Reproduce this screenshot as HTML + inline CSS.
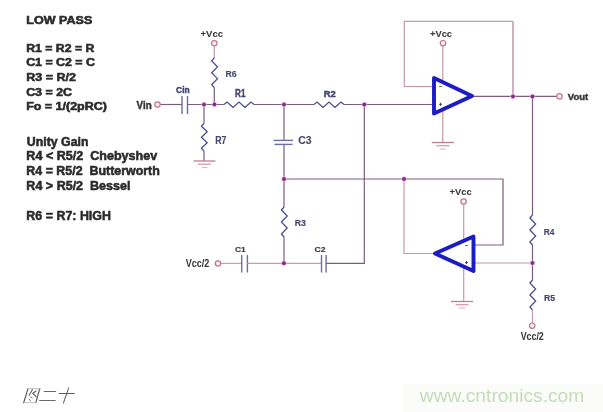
<!DOCTYPE html>
<html><head><meta charset="utf-8"><style>
html,body{margin:0;padding:0;background:#fff;width:603px;height:412px;overflow:hidden}
svg{display:block;filter:blur(0.45px);font-family:"Liberation Sans",sans-serif}
</style></head><body>
<svg width="603" height="412" viewBox="0 0 603 412">
<rect x="403" y="384" width="200" height="28" fill="#fbfbfa"/><text transform="matrix(19.22897 0 0 18.95349 419.84 401.84)" font-size="1" font-weight="normal" fill="#c4dcb8"   xml:space="preserve">www.cntronics.com</text>
<path d="M160,104.5 L182,104.5" fill="none" stroke="#7a5e78" stroke-width="1.2"/>
<path d="M182,96 L182,114" fill="none" stroke="#6c6ca6" stroke-width="1.4"/>
<path d="M187.5,96 L187.5,114" fill="none" stroke="#6c6ca6" stroke-width="1.4"/>
<path d="M187.5,104.5 L224,104.5" fill="none" stroke="#7a5e78" stroke-width="1.2"/>
<path d="M224,104.5 L227.0,102.1 L233.0,107.5 L239.0,102.1 L245.0,107.5 L251.0,102.1 L254,104.5" fill="none" stroke="#4a4a94" stroke-width="1.25"/>
<path d="M254,104.5 L314,104.5" fill="none" stroke="#7a5e78" stroke-width="1.2"/>
<path d="M314,104.5 L317.0,102.1 L323.0,107.5 L329.0,102.1 L335.0,107.5 L341.0,102.1 L344,104.5" fill="none" stroke="#4a4a94" stroke-width="1.25"/>
<path d="M344,104.5 L434,104.5" fill="none" stroke="#7a5e78" stroke-width="1.2"/>
<path d="M214.3,45.9 L214.3,58" fill="none" stroke="#c898a8" stroke-width="1.2"/>
<path d="M214.3,58 L211.70000000000002,60.95 L217.5,66.85 L211.70000000000002,72.75 L217.5,78.65 L211.70000000000002,84.55 L214.3,87.5" fill="none" stroke="#4a4a94" stroke-width="1.25"/>
<path d="M214.3,87.5 L214.3,104.5" fill="none" stroke="#7a5e78" stroke-width="1.2"/>
<path d="M204,104.5 L204,123.5" fill="none" stroke="#7a5e78" stroke-width="1.2"/>
<path d="M204,123.5 L201.4,126.25 L207.2,131.75 L201.4,137.25 L207.2,142.75 L201.4,148.25 L204,151.0" fill="none" stroke="#4a4a94" stroke-width="1.25"/>
<path d="M204,151 L204,161" fill="none" stroke="#7a5e78" stroke-width="1.2"/>
<path d="M193.5,161 L215.5,161" fill="none" stroke="#b88090" stroke-width="1.3"/><path d="M198.0,164.2 L211.0,164.2" fill="none" stroke="#dc98a8" stroke-width="1.3"/><path d="M201.5,167.5 L207.5,167.5" fill="none" stroke="#e4b4c0" stroke-width="1.1"/>
<path d="M284,104.5 L284,140.4" fill="none" stroke="#7a5e78" stroke-width="1.2"/>
<path d="M273.5,140.4 L293,140.4" fill="none" stroke="#6c6ca6" stroke-width="1.4"/>
<path d="M274.5,144.4 L292.5,144.4" fill="none" stroke="#6c6ca6" stroke-width="1.4"/>
<path d="M284,144.4 L284,179" fill="none" stroke="#7a5e78" stroke-width="1.2"/>
<path d="M284,179 L503,179 L503,245 L473.5,245" fill="none" stroke="#7a5e78" stroke-width="1.2"/>
<path d="M404,179 L404,253.5 L435,253.5" fill="none" stroke="#c898a8" stroke-width="1.2"/>
<path d="M284,179 L284,207" fill="none" stroke="#7a5e78" stroke-width="1.2"/>
<path d="M284,207 L281.4,210.0 L287.2,216.0 L281.4,222.0 L287.2,228.0 L281.4,234.0 L284,237" fill="none" stroke="#4a4a94" stroke-width="1.25"/>
<path d="M284,237 L284,263.3" fill="none" stroke="#7a5e78" stroke-width="1.2"/>
<path d="M220.7,263.4 L241.7,263.4" fill="none" stroke="#d894a8" stroke-width="1.2"/>
<path d="M241.7,255 L241.7,272.5" fill="none" stroke="#6c6ca6" stroke-width="1.4"/>
<path d="M247.4,255 L247.4,272.5" fill="none" stroke="#6c6ca6" stroke-width="1.4"/>
<path d="M247.4,263.3 L321.5,263.3" fill="none" stroke="#d894a8" stroke-width="1.2"/>
<path d="M321.5,255 L321.5,272.5" fill="none" stroke="#6c6ca6" stroke-width="1.4"/>
<path d="M326.1,255 L326.1,272.5" fill="none" stroke="#6c6ca6" stroke-width="1.4"/>
<path d="M326.1,263.3 L364.3,263.3 L364.3,104.5" fill="none" stroke="#7a5e78" stroke-width="1.2"/>
<path d="M442.8,46 L442.8,142.5" fill="none" stroke="#c898a8" stroke-width="1.2"/>
<path d="M431.8,142.5 L453.8,142.5" fill="none" stroke="#b88090" stroke-width="1.3"/><path d="M436.3,145.7 L449.3,145.7" fill="none" stroke="#dc98a8" stroke-width="1.3"/><path d="M439.8,149.0 L445.8,149.0" fill="none" stroke="#e4b4c0" stroke-width="1.1"/>
<path d="M404,86.5 L434,86.5" fill="none" stroke="#c898a8" stroke-width="1.2"/>
<path d="M513,96.4 L513,21.4" fill="none" stroke="#a88098" stroke-width="1.2"/>
<path d="M513,21.4 L404.3,21.4 L404.3,86.5" fill="none" stroke="#c898a8" stroke-width="1.2"/>
<path d="M472,96.4 L556.8,96.4" fill="none" stroke="#7a5e78" stroke-width="1.2"/>
<path d="M463.7,204.1 L463.7,301.5" fill="none" stroke="#c898a8" stroke-width="1.2"/>
<path d="M451,301.5 L473,301.5" fill="none" stroke="#b88090" stroke-width="1.3"/><path d="M455.5,304.7 L468.5,304.7" fill="none" stroke="#dc98a8" stroke-width="1.3"/><path d="M459,308.0 L465,308.0" fill="none" stroke="#e4b4c0" stroke-width="1.1"/>
<path d="M473.5,263 L532.5,263" fill="none" stroke="#c898a8" stroke-width="1.2"/>
<path d="M532.5,96.4 L532.5,215" fill="none" stroke="#7a5e78" stroke-width="1.2"/>
<path d="M532.5,215 L529.9,218.0 L535.7,224.0 L529.9,230.0 L535.7,236.0 L529.9,242.0 L532.5,245" fill="none" stroke="#4a4a94" stroke-width="1.25"/>
<path d="M532.5,245 L532.5,280" fill="none" stroke="#7a5e78" stroke-width="1.2"/>
<path d="M532.5,280 L529.9,283.0 L535.7,289.0 L529.9,295.0 L535.7,301.0 L529.9,307.0 L532.5,310" fill="none" stroke="#4a4a94" stroke-width="1.25"/>
<path d="M532.5,310 L532.5,323" fill="none" stroke="#c898a8" stroke-width="1.2"/>
<path d="M434,78 L472,96 L434,113.5 Z" fill="#fff" stroke="#1c1cc4" stroke-width="3.9" stroke-linejoin="round"/>
<path d="M473.5,236.5 L435,253.5 L473.5,271 Z" fill="#fff" stroke="#1c1cc4" stroke-width="3.9" stroke-linejoin="round"/>
<path d="M439,86.5 L442,86.5" fill="none" stroke="#777" stroke-width="1"/>
<path d="M439,104.3 L442,104.3" fill="none" stroke="#444" stroke-width="1"/>
<path d="M440.5,102.8 L440.5,105.8" fill="none" stroke="#444" stroke-width="1"/>
<path d="M465,245.5 L468,245.5" fill="none" stroke="#777" stroke-width="1"/>
<path d="M465,262.6 L468,262.6" fill="none" stroke="#444" stroke-width="1"/>
<path d="M466.5,261.1 L466.5,264.1" fill="none" stroke="#444" stroke-width="1"/>
<circle cx="157.5" cy="104.6" r="2.7" fill="#fcecf0" stroke="#c07888" stroke-width="1.2"/>
<circle cx="214.3" cy="43.3" r="2.7" fill="#fcecf0" stroke="#c07888" stroke-width="1.2"/>
<circle cx="443" cy="43.2" r="2.7" fill="#fcecf0" stroke="#c07888" stroke-width="1.2"/>
<circle cx="559.5" cy="96.4" r="2.7" fill="#fcecf0" stroke="#c07888" stroke-width="1.2"/>
<circle cx="463.6" cy="201.5" r="2.7" fill="#fcecf0" stroke="#c07888" stroke-width="1.2"/>
<circle cx="218" cy="263.5" r="2.7" fill="#fcecf0" stroke="#c07888" stroke-width="1.2"/>
<circle cx="532.2" cy="325.7" r="2.7" fill="#fcecf0" stroke="#c07888" stroke-width="1.2"/>
<circle cx="204" cy="104.5" r="3.1" fill="#f0c0f0" opacity="0.5"/><circle cx="204" cy="104.5" r="2.0" fill="#8c2a8c"/>
<circle cx="214.5" cy="104.5" r="3.1" fill="#f0c0f0" opacity="0.5"/><circle cx="214.5" cy="104.5" r="2.0" fill="#8c2a8c"/>
<circle cx="284" cy="104.5" r="3.1" fill="#f0c0f0" opacity="0.5"/><circle cx="284" cy="104.5" r="2.0" fill="#8c2a8c"/>
<circle cx="364.3" cy="104.5" r="3.1" fill="#f0c0f0" opacity="0.5"/><circle cx="364.3" cy="104.5" r="2.0" fill="#8c2a8c"/>
<circle cx="513" cy="96.4" r="3.1" fill="#f0c0f0" opacity="0.5"/><circle cx="513" cy="96.4" r="2.0" fill="#8c2a8c"/>
<circle cx="532.5" cy="96.4" r="3.1" fill="#f0c0f0" opacity="0.5"/><circle cx="532.5" cy="96.4" r="2.0" fill="#8c2a8c"/>
<circle cx="284" cy="179" r="3.1" fill="#f0c0f0" opacity="0.5"/><circle cx="284" cy="179" r="2.0" fill="#8c2a8c"/>
<circle cx="404" cy="179" r="3.1" fill="#f0c0f0" opacity="0.5"/><circle cx="404" cy="179" r="2.0" fill="#8c2a8c"/>
<circle cx="532.5" cy="263" r="3.1" fill="#f0c0f0" opacity="0.5"/><circle cx="532.5" cy="263" r="2.0" fill="#8c2a8c"/>
<circle cx="283.9" cy="263.3" r="3.1" fill="#f0c0f0" opacity="0.5"/><circle cx="283.9" cy="263.3" r="2.0" fill="#8c2a8c"/>
<text transform="matrix(12.54991 0 0 10.38517 26.35 23.59)" font-size="1" font-weight="bold" fill="#2b2b2b" stroke="#2b2b2b" stroke-width="0.05296"  xml:space="preserve">LOW PASS</text>
<text transform="matrix(12.28859 0 0 11.25727 26.15 51.80)" font-size="1" font-weight="bold" fill="#2b2b2b" stroke="#2b2b2b" stroke-width="0.04886"  xml:space="preserve">R1 = R2 = R</text>
<text transform="matrix(12.37855 0 0 10.82122 26.15 66.09)" font-size="1" font-weight="bold" fill="#2b2b2b" stroke="#2b2b2b" stroke-width="0.05083"  xml:space="preserve">C1 = C2 = C</text>
<text transform="matrix(12.53145 0 0 11.11192 26.15 80.89)" font-size="1" font-weight="bold" fill="#2b2b2b" stroke="#2b2b2b" stroke-width="0.04950"  xml:space="preserve">R3 = R/2</text>
<text transform="matrix(12.41883 0 0 11.11192 26.15 96.19)" font-size="1" font-weight="bold" fill="#2b2b2b" stroke="#2b2b2b" stroke-width="0.04950"  xml:space="preserve">C3 = 2C</text>
<text transform="matrix(12.49807 0 0 10.82122 26.15 110.19)" font-size="1" font-weight="bold" fill="#2b2b2b" stroke="#2b2b2b" stroke-width="0.05083"  xml:space="preserve">Fo = 1/(2pRC)</text>
<text transform="matrix(12.31754 0 0 12.12936 26.85 146.09)" font-size="1" font-weight="bold" fill="#2b2b2b" stroke="#2b2b2b" stroke-width="0.04534"  xml:space="preserve">Unity Gain</text>
<text transform="matrix(12.56117 0 0 12.27471 26.35 160.40)" font-size="1" font-weight="bold" fill="#2b2b2b" stroke="#2b2b2b" stroke-width="0.04481"  xml:space="preserve">R4 &lt; R5/2  Chebyshev</text>
<text transform="matrix(12.43490 0 0 12.42006 26.35 174.90)" font-size="1" font-weight="bold" fill="#2b2b2b" stroke="#2b2b2b" stroke-width="0.04428"  xml:space="preserve">R4 = R5/2  Butterworth</text>
<text transform="matrix(12.52557 0 0 12.42006 26.35 189.70)" font-size="1" font-weight="bold" fill="#2b2b2b" stroke="#2b2b2b" stroke-width="0.04428"  xml:space="preserve">R4 &gt; R5/2  Bessel</text>
<text transform="matrix(12.44307 0 0 13.43750 26.35 220.20)" font-size="1" font-weight="bold" fill="#2b2b2b" stroke="#2b2b2b" stroke-width="0.04093"  xml:space="preserve">R6 = R7: HIGH</text>
<text transform="matrix(8.37989 0 0 9.25872 176.10 93.47)" font-size="1" font-weight="bold" fill="#444474" stroke="#444474" stroke-width="0.04860"  xml:space="preserve">Cin</text>
<text transform="matrix(8.68545 0 0 8.82267 225.50 76.77)" font-size="1" font-weight="bold" fill="#444474" stroke="#444474" stroke-width="0.01700"  xml:space="preserve">R6</text>
<text transform="matrix(8.05947 0 0 11.00291 235.10 96.67)" font-size="1" font-weight="bold" fill="#444474" stroke="#444474" stroke-width="0.04090"  xml:space="preserve">R1</text>
<text transform="matrix(9.38967 0 0 9.11337 323.70 96.97)" font-size="1" font-weight="bold" fill="#444474" stroke="#444474" stroke-width="0.04938"  xml:space="preserve">R2</text>
<text transform="matrix(8.76369 0 0 11.43895 215.30 143.57)" font-size="1" font-weight="bold" fill="#444474" stroke="#444474" stroke-width="0.01311"  xml:space="preserve">R7</text>
<text transform="matrix(10.48513 0 0 10.56686 298.30 143.57)" font-size="1" font-weight="bold" fill="#484864" stroke="#484864" stroke-width="0.01420"  xml:space="preserve">C3</text>
<text transform="matrix(8.76369 0 0 9.40407 294.80 226.27)" font-size="1" font-weight="bold" fill="#444474" stroke="#444474" stroke-width="0.01595"  xml:space="preserve">R3</text>
<text transform="matrix(8.45070 0 0 8.09593 234.90 251.87)" font-size="1" font-weight="bold" fill="#383848" stroke="#383848" stroke-width="0.01853"  xml:space="preserve">C1</text>
<text transform="matrix(8.60720 0 0 8.09593 314.60 252.07)" font-size="1" font-weight="bold" fill="#383848" stroke="#383848" stroke-width="0.01853"  xml:space="preserve">C2</text>
<text transform="matrix(8.37246 0 0 9.25872 543.70 235.47)" font-size="1" font-weight="bold" fill="#444474" stroke="#444474" stroke-width="0.01620"  xml:space="preserve">R4</text>
<text transform="matrix(8.68545 0 0 9.69477 544.00 300.97)" font-size="1" font-weight="bold" fill="#444474" stroke="#444474" stroke-width="0.01547"  xml:space="preserve">R5</text>
<text transform="matrix(9.81795 0 0 9.98547 136.60 108.67)" font-size="1" font-weight="bold" fill="#383838" stroke="#383838" stroke-width="0.04507"  xml:space="preserve">Vin</text>
<text transform="matrix(9.56411 0 0 9.11337 200.50 37.07)" font-size="1" font-weight="bold" fill="#383838" stroke="#383838" stroke-width="0.00549"  xml:space="preserve">+Vcc</text>
<text transform="matrix(9.39484 0 0 8.96802 429.90 37.47)" font-size="1" font-weight="bold" fill="#383838" stroke="#383838" stroke-width="0.00558"  xml:space="preserve">+Vcc</text>
<text transform="matrix(9.35252 0 0 9.54942 449.60 195.47)" font-size="1" font-weight="bold" fill="#383838" stroke="#383838" stroke-width="0.00524"  xml:space="preserve">+Vcc</text>
<text transform="matrix(9.45505 0 0 9.40407 567.80 100.17)" font-size="1" font-weight="bold" fill="#383838" stroke="#383838" stroke-width="0.04785"  xml:space="preserve">Vout</text>
<text transform="matrix(9.03176 0 0 10.42151 185.70 266.77)" font-size="1" font-weight="bold" fill="#383838" stroke="#383838" stroke-width="0.00480"  xml:space="preserve">Vcc/2</text>
<text transform="matrix(8.84041 0 0 11.14826 520.70 339.87)" font-size="1" font-weight="bold" fill="#383838" stroke="#383838" stroke-width="0.00449"  xml:space="preserve">Vcc/2</text>
<g fill="none" stroke-linecap="round">
<path d="M28,388.6 L23.6,403 M39.8,388.6 L35.8,402.6" stroke="#585858" stroke-width="1.15"/>
<path d="M28,388.7 L39.8,388.7 M23.8,402.6 L35.8,402.6" stroke="#b8b8b8" stroke-width="0.9"/>
<path d="M32.4,389.6 L29.2,395.2 M36.1,391 L32.8,393.4 L36.1,396.6" stroke="#555" stroke-width="1.05"/>
<path d="M30.8,397 L32.1,397.8 M29,399.3 L30.5,400.6" stroke="#666" stroke-width="1"/>
<path d="M44.2,391.5 L55.8,391.5 M39.6,400.5 L55.2,400.5" stroke="#6a6a6a" stroke-width="1.05"/>
<path d="M59.2,393.5 L74.3,393.5 M68.7,387.9 L63.4,403.1" stroke="#5e5e5e" stroke-width="1.05"/>
</g>
</svg>
</body></html>
